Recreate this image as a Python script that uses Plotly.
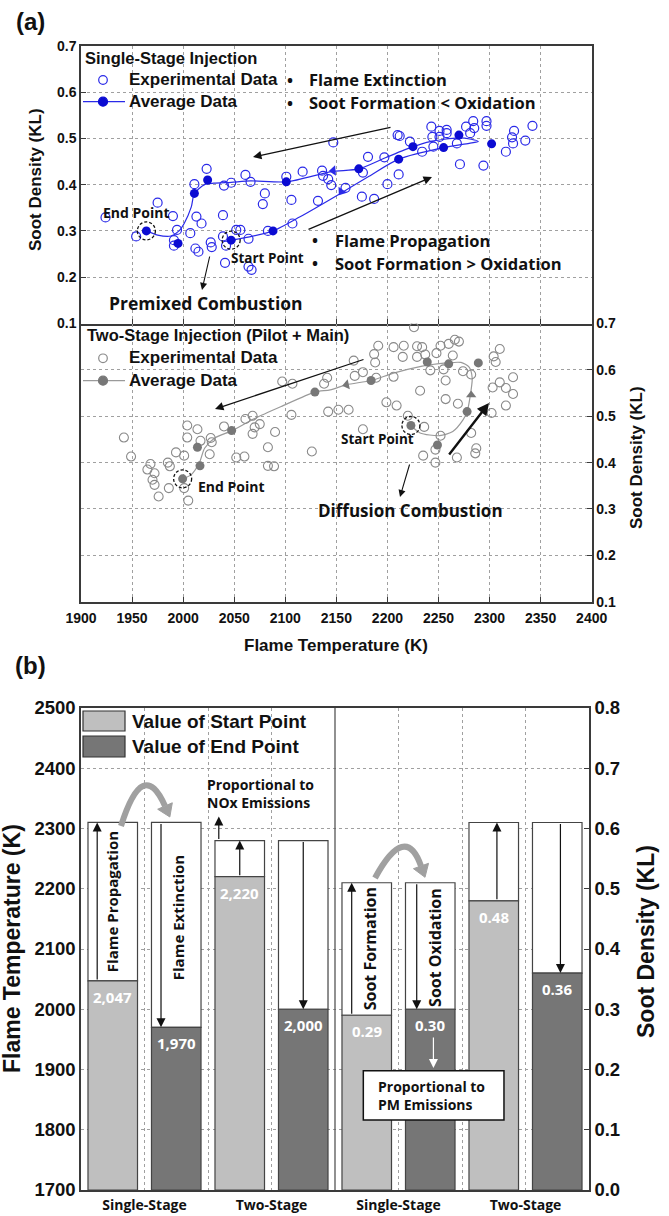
import math
import plotly.graph_objects as go

W, H = 669, 1216


def px(x):
    return x / W


def py(y):
    return 1 - y / H


# ---------------- Panel (a) data ----------------
# Single-stage injection (blue)
ss_exp_T = [1924, 1954, 1975, 1990, 1991, 1991, 1994, 2007, 2011, 2013,
            2012, 2015, 2018, 2023, 2027, 2028, 2039, 2040, 2039, 2042,
            2041, 2047, 2052, 2056, 2061, 2064, 2066, 2064, 2067, 2078,
            2080, 2083, 2101, 2106, 2107, 2117, 2132, 2136, 2137, 2142,
            2145, 2147, 2159, 2175, 2176, 2187, 2181, 2197, 2200, 2210,
            2212, 2211, 2222, 2234, 2243, 2244, 2245, 2251, 2258, 2251,
            2258, 2268, 2271, 2277, 2281, 2284, 2285, 2294, 2297, 2297,
            2316, 2322, 2324, 2323, 2335, 2342]
ss_exp_KL = [0.329, 0.288, 0.361, 0.332, 0.280, 0.268, 0.302, 0.295, 0.401, 0.331,
             0.262, 0.255, 0.316, 0.434, 0.275, 0.265, 0.334, 0.398, 0.288, 0.268,
             0.231, 0.404, 0.302, 0.302, 0.421, 0.283, 0.406, 0.223, 0.216, 0.358,
             0.381, 0.300, 0.417, 0.367, 0.316, 0.428, 0.365, 0.430, 0.419, 0.412,
             0.399, 0.491, 0.393, 0.374, 0.426, 0.369, 0.460, 0.459, 0.401, 0.507,
             0.505, 0.422, 0.493, 0.471, 0.525, 0.503, 0.482, 0.516, 0.518, 0.503,
             0.511, 0.489, 0.444, 0.525, 0.511, 0.537, 0.522, 0.441, 0.537, 0.527,
             0.471, 0.502, 0.516, 0.489, 0.495, 0.527]
ss_avg_T = [1964, 1995, 2011, 2024, 2101, 2172, 2225, 2270, 2302, 2255, 2211, 2088, 2047]
ss_avg_KL = [0.300, 0.273, 0.381, 0.410, 0.406, 0.434, 0.482, 0.507, 0.488, 0.480, 0.455, 0.300, 0.280]
ss_curve_T = [2047, 2065, 2088, 2114, 2154, 2182, 2211, 2255, 2280, 2289, 2282, 2269, 2242, 2225,
              2198, 2172, 2145, 2102, 2066, 2047, 2030, 2021, 2011, 2008, 2001, 1996, 1988, 1975, 1964]
ss_curve_KL = [0.280, 0.287, 0.300, 0.330, 0.381, 0.418, 0.455, 0.480, 0.489, 0.493, 0.498, 0.501, 0.493, 0.482,
               0.458, 0.434, 0.428, 0.406, 0.408, 0.405, 0.403, 0.400, 0.381, 0.352, 0.316, 0.300, 0.289, 0.291, 0.300]
ss_dir_T = [2147, 2155]
ss_dir_KL = [0.430, 0.385]
ss_dir_angle = [265, 215]
ss_marked_T = [2047, 1964]      # start point, end point
ss_marked_KL = [0.280, 0.300]

# Two-stage injection (gray)
ts_exp_T = [1942, 1949, 1968, 1965, 1972, 1970, 1972, 1976, 1986, 1985,
            1987, 1993, 2001, 2004, 2004, 2001, 2005, 2014, 2017, 2026,
            2027, 2028, 2040, 2052, 2060, 2061, 2068, 2070, 2075, 2068,
            2083, 2083, 2089, 2090, 2097, 2107, 2106, 2126, 2138, 2141,
            2142, 2152, 2162, 2167, 2168, 2176, 2176, 2187, 2188, 2189,
            2191, 2199, 2206, 2206, 2209, 2215, 2216, 2220, 2226, 2229,
            2229, 2232, 2234, 2235, 2236, 2237, 2242, 2247, 2247, 2248,
            2252, 2252, 2255, 2257, 2257, 2260, 2264, 2266, 2268, 2269,
            2270, 2274, 2282, 2282, 2286, 2287, 2302, 2303, 2304, 2306,
            2310, 2310, 2316, 2316, 2323, 2323]
ts_exp_KL = [0.454, 0.413, 0.397, 0.385, 0.377, 0.363, 0.352, 0.327, 0.345, 0.400,
             0.392, 0.422, 0.415, 0.480, 0.454, 0.345, 0.318, 0.472, 0.447, 0.418,
             0.453, 0.444, 0.478, 0.411, 0.413, 0.494, 0.501, 0.476, 0.483, 0.462,
             0.433, 0.393, 0.392, 0.466, 0.575, 0.570, 0.503, 0.424, 0.570, 0.583,
             0.510, 0.514, 0.514, 0.620, 0.587, 0.595, 0.472, 0.634, 0.616, 0.583,
             0.652, 0.530, 0.649, 0.585, 0.523, 0.628, 0.652, 0.501, 0.692, 0.651,
             0.628, 0.555, 0.649, 0.415, 0.477, 0.633, 0.599, 0.400, 0.428, 0.636,
             0.652, 0.458, 0.601, 0.577, 0.537, 0.656, 0.631, 0.665, 0.411, 0.527,
             0.661, 0.597, 0.590, 0.464, 0.420, 0.431, 0.507, 0.562, 0.629, 0.617,
             0.645, 0.573, 0.561, 0.523, 0.548, 0.584]
ts_avg_T = [1999.5, 2014, 2016.5, 2047.5, 2129, 2184, 2239, 2260, 2289, 2278, 2249, 2223]
ts_avg_KL = [0.365, 0.433, 0.393, 0.469, 0.552, 0.577, 0.617, 0.613, 0.615, 0.510, 0.438, 0.480]
ts_curve_T = [2223, 2232, 2251, 2264, 2274, 2278, 2281, 2283, 2280, 2272, 2258, 2242, 2234,
              2206, 2184, 2160, 2144, 2129, 2096, 2070, 2048, 2031, 2021, 2016, 2008, 2000]
ts_curve_KL = [0.480, 0.464, 0.458, 0.467, 0.492, 0.510, 0.543, 0.582, 0.606, 0.616, 0.615, 0.611, 0.608,
               0.593, 0.577, 0.568, 0.557, 0.552, 0.521, 0.495, 0.469, 0.453, 0.431, 0.400, 0.374, 0.365]
ts_dir_T = [2160, 2282]
ts_dir_KL = [0.568, 0.546]
ts_dir_angle = [258, 0]
ts_marked_T = [2223, 1999.5]
ts_marked_KL = [0.480, 0.365]

a_x_ticks = [1900, 1950, 2000, 2050, 2100, 2150, 2200, 2250, 2300, 2350, 2400]
a_y_ticks = [0.1, 0.2, 0.3, 0.4, 0.5, 0.6, 0.7]

# ---------------- Panel (b) data ----------------
groups = ["Single-Stage", "Two-Stage", "Single-Stage", "Two-Stage"]
temp_start = [2047, 2220]
temp_end = [1970, 2000]
temp_top = [2310, 2280]
soot_start = [0.29, 0.48]
soot_end = [0.30, 0.36]
soot_top = [0.51, 0.61]
b_temp_ticks = [1700, 1800, 1900, 2000, 2100, 2200, 2300, 2400, 2500]
b_soot_ticks = [0.0, 0.1, 0.2, 0.3, 0.4, 0.5, 0.6, 0.7, 0.8]

# ---------------- styles ----------------
BLUE = "#2a2ae8"
BLUE_F = "#0b0bd2"
G_OPEN = "#8a8a8a"
G_FILL = "#777777"
G_LINE = "#9a9a9a"
GRID = "#a0a0a0"
AXC = "#3a3a3a"
TXT = "#111111"
LIGHT = "#bfbfbf"
DARK = "#767676"
FA = "Liberation Sans, Arial, sans-serif"
FO = "Open Sans, Noto Sans, sans-serif"


def font(size, fam=FA, color=TXT, weight="bold"):
    return dict(family=fam, size=size, color=color, weight=weight)


fig = go.Figure()

# --- panel (a) upper: single-stage
fig.add_trace(go.Scatter(x=ss_curve_T, y=ss_curve_KL, mode="lines", xaxis="x", yaxis="y",
                         line=dict(color=BLUE, width=1.2, shape="spline", smoothing=0.7),
                         hoverinfo="skip"))
fig.add_trace(go.Scatter(x=ss_exp_T, y=ss_exp_KL, mode="markers", xaxis="x", yaxis="y",
                         marker=dict(symbol="circle-open", size=9, color=BLUE, line=dict(width=1.2))))
fig.add_trace(go.Scatter(x=ss_avg_T, y=ss_avg_KL, mode="markers", xaxis="x", yaxis="y",
                         marker=dict(symbol="circle", size=9, color=BLUE_F)))
fig.add_trace(go.Scatter(x=ss_dir_T, y=ss_dir_KL, mode="markers", xaxis="x", yaxis="y",
                         marker=dict(symbol="triangle-up", size=9, color=BLUE, angle=ss_dir_angle)))

# --- panel (a) lower: two-stage
fig.add_trace(go.Scatter(x=ts_curve_T, y=ts_curve_KL, mode="lines", xaxis="x2", yaxis="y2",
                         line=dict(color=G_LINE, width=1.2, shape="spline", smoothing=0.7),
                         hoverinfo="skip"))
fig.add_trace(go.Scatter(x=ts_exp_T, y=ts_exp_KL, mode="markers", xaxis="x2", yaxis="y2",
                         marker=dict(symbol="circle-open", size=9, color=G_OPEN, line=dict(width=1.1))))
fig.add_trace(go.Scatter(x=ts_avg_T, y=ts_avg_KL, mode="markers", xaxis="x2", yaxis="y2",
                         marker=dict(symbol="circle", size=9, color=G_FILL)))
fig.add_trace(go.Scatter(x=ts_dir_T, y=ts_dir_KL, mode="markers", xaxis="x2", yaxis="y2",
                         marker=dict(symbol="triangle-up", size=9, color=G_FILL, angle=ts_dir_angle)))

# --- panel (b) bars
BW = 0.78
temp_sx = [2 * g for g in range(len(temp_start))]
temp_ex = [2 * g + 1 for g in range(len(temp_end))]
soot_sx = [4 + 2 * g for g in range(len(soot_start))]
soot_ex = [5 + 2 * g for g in range(len(soot_end))]
edge = dict(color="#444444", width=1.2)

# white "range" boxes above bars
fig.add_trace(go.Bar(x=temp_sx + temp_ex, base=temp_start + temp_end,
                     y=[t - v for t, v in zip(temp_top + temp_top, temp_start + temp_end)],
                     width=BW, marker=dict(color="white", line=edge), xaxis="x3", yaxis="y3"))
fig.add_trace(go.Bar(x=soot_sx + soot_ex, base=soot_start + soot_end,
                     y=[t - v for t, v in zip(soot_top + soot_top, soot_start + soot_end)],
                     width=BW, marker=dict(color="white", line=edge), xaxis="x3", yaxis="y4"))
# value bars
fig.add_trace(go.Bar(x=temp_sx, base=[1700] * len(temp_start), y=[v - 1700 for v in temp_start],
                     width=BW, marker=dict(color=LIGHT, line=edge), xaxis="x3", yaxis="y3"))
fig.add_trace(go.Bar(x=temp_ex, base=[1700] * len(temp_end), y=[v - 1700 for v in temp_end],
                     width=BW, marker=dict(color=DARK, line=edge), xaxis="x3", yaxis="y3"))
fig.add_trace(go.Bar(x=soot_sx, y=soot_start, width=BW, marker=dict(color=LIGHT, line=edge),
                     xaxis="x3", yaxis="y4"))
fig.add_trace(go.Bar(x=soot_ex, y=soot_end, width=BW, marker=dict(color=DARK, line=edge),
                     xaxis="x3", yaxis="y4"))

# ---------------- annotations ----------------
ann = []


def txt(x, y, s, size, fam=FO, xanchor="center", angle=0, color=TXT, align="left"):
    ann.append(dict(x=px(x), y=py(y), xref="paper", yref="paper", text=s, showarrow=False,
                    xanchor=xanchor, yanchor="middle", textangle=angle, align=align,
                    font=font(size, fam, color)))


def arr(hx, hy, tx, ty, width=1.3, color=TXT, size=1.3):
    ann.append(dict(x=px(hx), y=py(hy), xref="paper", yref="paper", ax=tx - hx, ay=ty - hy,
                    axref="pixel", ayref="pixel", text="", showarrow=True, arrowhead=2,
                    arrowsize=size, arrowwidth=width, arrowcolor=color, standoff=0))


def darr(x, y_tail, y_head, yref, color=TXT, width=1.2, size=1.5):
    ann.append(dict(x=x, y=y_head, xref="x3", yref=yref, ax=x, ay=y_tail, axref="x3", ayref=yref,
                    text="", showarrow=True, arrowhead=2, arrowsize=size, arrowwidth=width,
                    arrowcolor=color, standoff=0))


# panel labels
txt(30, 22, "(a)", 24, FA)
txt(30, 665, "(b)", 24, FA)

# (a) upper texts
txt(83, 58, "Single-Stage Injection", 16.5, FA, "left")
txt(127, 80, "Experimental Data", 17, FA, "left")
txt(127, 102, "Average Data", 17, FA, "left")
txt(290, 80, "•", 16, FO)
txt(290, 103, "•", 16, FO)
txt(307, 80, "Flame Extinction", 16.5, FO, "left")
txt(307, 103, "Soot Formation &lt; Oxidation", 16.5, FO, "left")
txt(315, 240, "•", 16, FO)
txt(315, 263, "•", 16, FO)
txt(333, 240, "Flame Propagation", 16.5, FO, "left")
txt(333, 263, "Soot Formation &gt; Oxidation", 16.5, FO, "left")
txt(136, 213, "End Point", 14, FO)
txt(267, 258, "Start Point", 13.5, FO)
txt(206, 303, "Premixed Combustion", 17.5, FO)
arr(253, 157, 392, 127)
arr(432, 177, 307, 230)
arr(202, 290, 210, 255, width=1.1)

# (a) lower texts
txt(85, 335, "Two-Stage Injection (Pilot + Main)", 16.5, FA, "left")
txt(127, 358, "Experimental Data", 17, FA, "left")
txt(127, 380, "Average Data", 17, FA, "left")
txt(231, 486, "End Point", 14, FO)
txt(377, 439, "Start Point", 13.5, FO)
txt(410, 511, "Diffusion Combustion", 17, FO)
arr(215, 409, 365, 359)
arr(489, 403, 448, 456, width=2.4, size=1.0)
arr(400, 497, 410, 463, width=1.1)

# (a) axis titles
txt(336, 645, "Flame Temperature (K)", 17, FA)
txt(35, 180, "Soot Density (KL)", 17, FA, angle=-90)
txt(636, 458, "Soot Density (KL)", 17, FA, angle=-90)

# (b) legend texts
txt(130, 721, "Value of Start Point", 19, FA, "left")
txt(130, 746, "Value of End Point", 19, FA, "left")

# (b) axis titles
txt(12, 949, "Flame Temperature (K)", 23, FA, angle=-90)
txt(646, 942, "Soot Density (KL)", 23, FA, angle=-90)

# (b) bar value labels
for xs, vals in ((temp_sx, temp_start), (temp_ex, temp_end)):
    for x, v in zip(xs, vals):
        ann.append(dict(x=x, y=v, xref="x3", yref="y3", text=f"{v:,}", showarrow=False,
                        yanchor="middle", yshift=-16, font=font(15, FO, "white")))
for xs, vals in ((soot_sx, soot_start), (soot_ex, soot_end)):
    for x, v in zip(xs, vals):
        ann.append(dict(x=x, y=v, xref="x3", yref="y4", text=f"{v:.2f}", showarrow=False,
                        yanchor="middle", yshift=-16, font=font(15, FO, "white")))

# (b) arrows inside the boxes
darr(temp_sx[0] - 0.245, temp_start[0], temp_top[0], "y3")
darr(temp_ex[0] - 0.24, temp_top[0], temp_end[0], "y3")
darr(temp_sx[1], temp_start[1], temp_top[1], "y3")
darr(temp_sx[1] - 0.33, temp_top[1], temp_top[1] + 40, "y3")
darr(temp_ex[1], temp_top[1], temp_end[1], "y3")
darr(soot_sx[0] - 0.237, soot_start[0], soot_top[0], "y4")
darr(soot_ex[0] - 0.213, soot_top[0], soot_end[0], "y4")
darr(soot_sx[1] + 0.05, soot_start[1], soot_top[1], "y4")
darr(soot_ex[1] + 0.05, soot_top[1], soot_end[1], "y4")
darr(soot_ex[0] + 0.05, 0.2556, 0.2025, "y4", color="white")

# (b) rotated process labels
for x, y, yref, s, size in ((0.0, 2179, "y3", "Flame Propagation", 15),
                            (1.02, 2152, "y3", "Flame Extinction", 15),
                            (4.05, 0.401, "y4", "Soot Formation", 16),
                            (5.07, 0.403, "y4", "Soot Oxidation", 16)):
    ann.append(dict(x=x, y=y, xref="x3", yref=yref, text=s, showarrow=False, textangle=-90,
                    xanchor="center", yanchor="middle", font=font(size, FO)))

txt(205, 793, "Proportional to<br>NOx Emissions", 14, FO, "left")
ann.append(dict(x=4.15, y=0.157, xref="x3", yref="y4", text="Proportional to<br>PM Emissions",
                showarrow=False, xanchor="left", yanchor="middle", align="left", font=font(14, FO)))

# ---------------- shapes ----------------
shapes = []


def pcircle(x, y, r, color, fill="rgba(0,0,0,0)", width=1.2):
    shapes.append(dict(type="circle", xref="paper", yref="paper", xsizemode="pixel", ysizemode="pixel",
                       xanchor=px(x), yanchor=py(y), x0=-r, x1=r, y0=-r, y1=r,
                       line=dict(color=color, width=width), fillcolor=fill))


def pline(x0, y0, x1, y1, color, width=1.2):
    shapes.append(dict(type="line", xref="paper", yref="paper", x0=px(x0), y0=py(y0), x1=px(x1), y1=py(y1),
                       line=dict(color=color, width=width)))


def prect(x0, y0, x1, y1, fill, color="#333333", width=1.2):
    shapes.append(dict(type="rect", xref="paper", yref="paper", x0=px(x0), y0=py(y0), x1=px(x1), y1=py(y1),
                       fillcolor=fill, line=dict(color=color, width=width)))


# legends of (a)
pcircle(103, 80, 4.3, BLUE)
pline(83, 101.7, 125, 101.7, BLUE)
pcircle(103, 101.7, 4.5, BLUE_F, fill=BLUE_F)
pcircle(103, 358.3, 4.3, G_OPEN)
pline(83, 380.7, 125, 380.7, G_LINE)
pcircle(103, 380.7, 4.5, G_FILL, fill=G_FILL)

# dashed circles around start / end points
for xr, yr, Ts, Ks in (("x", "y", ss_marked_T, ss_marked_KL), ("x2", "y2", ts_marked_T, ts_marked_KL)):
    for T, K in zip(Ts, Ks):
        shapes.append(dict(type="circle", xref=xr, yref=yr, xsizemode="pixel", ysizemode="pixel",
                           xanchor=T, yanchor=K, x0=-9, x1=9, y0=-9, y1=9,
                           line=dict(color=TXT, width=1.3, dash="3px,2px")))

# legend of (b)
prect(83, 711, 125, 731, LIGHT)
prect(83, 736, 125, 757, DARK)

# solid separator in (b)
shapes.append(dict(type="line", xref="x3", yref="y3", x0=3.5, x1=3.5, y0=1700, y1=2500,
                   line=dict(color="#555555", width=1.3)))
# PM box
shapes.append(dict(type="rect", xref="x3", yref="y4", x0=3.946, x1=6.161, y0=0.116, y1=0.198,
                   fillcolor="white", line=dict(color=TXT, width=1.5), layer="above"))


def curved_arrow(p0, peak, p2, head_len, half, color, width=6):
    cx = 2 * peak[0] - 0.5 * (p0[0] + p2[0])
    cy = 2 * peak[1] - 0.5 * (p0[1] + p2[1])
    path = (f"M {px(p0[0]):.5f},{py(p0[1]):.5f} Q {px(cx):.5f},{py(cy):.5f} "
            f"{px(p2[0]):.5f},{py(p2[1]):.5f}")
    shapes.append(dict(type="path", xref="paper", yref="paper", path=path,
                       line=dict(color=color, width=width)))
    dx, dy = p2[0] - cx, p2[1] - cy
    L = math.hypot(dx, dy)
    ux, uy = dx / L, dy / L
    tip = (p2[0] + ux * head_len, p2[1] + uy * head_len)
    b1 = (p2[0] - uy * half, p2[1] + ux * half)
    b2 = (p2[0] + uy * half, p2[1] - ux * half)
    tri = (f"M {px(tip[0]):.5f},{py(tip[1]):.5f} L {px(b1[0]):.5f},{py(b1[1]):.5f} "
           f"L {px(b2[0]):.5f},{py(b2[1]):.5f} Z")
    shapes.append(dict(type="path", xref="paper", yref="paper", path=tri, fillcolor=color,
                       line=dict(color=color, width=1)))


curved_arrow((121, 826), (143, 786), (165, 806), 12, 8, "#a0a0a0")
curved_arrow((375, 878), (401.7, 847), (421, 866), 12, 8, "#a0a0a0")

# ---------------- axes ----------------
ax_a = dict(range=[1900, 2400], tickvals=a_x_ticks, showgrid=True, gridcolor=GRID, griddash="dot",
            gridwidth=1, zeroline=False, showline=True, linecolor=AXC, linewidth=1.5,
            ticks="inside", ticklen=5, tickwidth=1.3, tickcolor=AXC, automargin=False,
            domain=[px(81), px(591.7)], tickfont=font(14))
ay_a = dict(range=[0.1, 0.7], tickvals=a_y_ticks, tickformat=".1f", showgrid=True, gridcolor=GRID,
            griddash="dot", gridwidth=1, zeroline=False, showline=True, linecolor=AXC, linewidth=1.5,
            mirror=True, ticks="inside", ticklen=5, tickwidth=1.3, tickcolor=AXC, automargin=False,
            tickfont=font(14))

fig.update_layout(
    width=W, height=H, margin=dict(l=0, r=0, t=0, b=0),
    paper_bgcolor="white", plot_bgcolor="white", showlegend=False, barmode="overlay",
    xaxis=dict(ax_a, anchor="y", showticklabels=False, mirror=True),
    yaxis=dict(ay_a, anchor="x", domain=[py(323.5), py(45.7)], side="left"),
    xaxis2=dict(ax_a, anchor="y2", showticklabels=True, ticklabelstandoff=3, mirror=False),
    yaxis2=dict(ay_a, anchor="x2", domain=[py(601.7), py(323.5)], side="right"),
    xaxis3=dict(domain=[px(81), px(589)], anchor="y3", range=[-0.5, 7.5],
                tickvals=[0.5, 1.5, 2.5, 4.5, 5.5, 6.5],
                ticktext=[groups[0], "", groups[1], groups[2], "", groups[3]],
                showgrid=True, gridcolor=GRID, griddash="dot", zeroline=False, showline=True,
                linecolor=AXC, linewidth=1.5, mirror=True, ticks="", automargin=False,
                tickfont=font(14, FO), ticklabelstandoff=1),
    yaxis3=dict(domain=[py(1190), py(708)], anchor="x3", range=[1700, 2500], tickvals=b_temp_ticks,
                showgrid=True, gridcolor=GRID, griddash="dot", zeroline=False, showline=True,
                linecolor=AXC, linewidth=1.5, ticks="", automargin=False, tickfont=font(18.5)),
    yaxis4=dict(overlaying="y3", anchor="x3", side="right", range=[0, 0.8], tickvals=b_soot_ticks,
                tickformat=".1f", showgrid=False, zeroline=False, showline=True, linecolor=AXC,
                linewidth=1.5, ticks="inside", ticklen=5, tickcolor=AXC, automargin=False,
                tickfont=font(18.5)),
    annotations=ann,
    shapes=shapes,
)

fig.write_html("out.html")
